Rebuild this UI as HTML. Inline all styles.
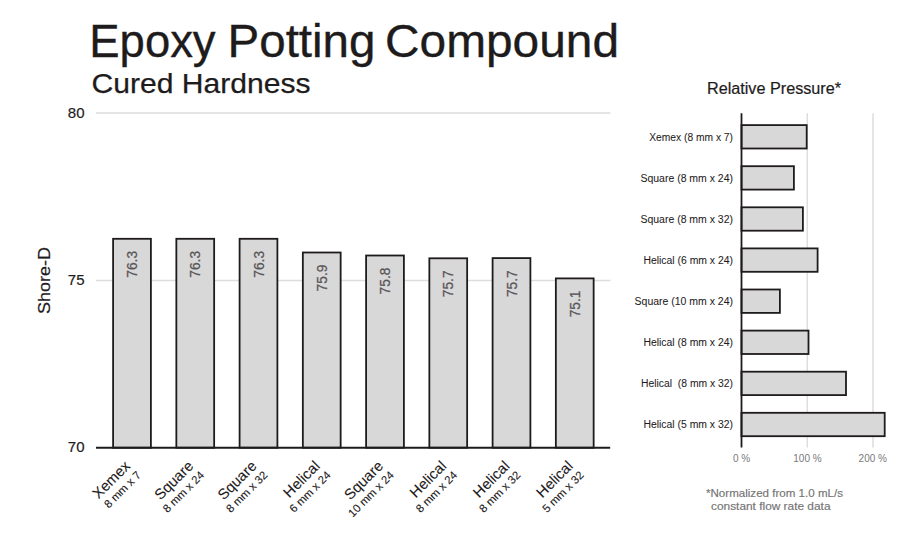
<!DOCTYPE html><html><head><meta charset="utf-8"><style>html,body{margin:0;padding:0;background:#fff;width:900px;height:550px;overflow:hidden}svg{display:block}text{font-family:"Liberation Sans",sans-serif}</style></head><body>
<svg width="900" height="550" viewBox="0 0 900 550">
<rect width="900" height="550" fill="#fff"/>
<text x="89.3" y="57.2" font-size="45.5" fill="#1e1b1c" stroke="#1e1b1c" stroke-width="0.35" textLength="126.3" lengthAdjust="spacingAndGlyphs">Epoxy</text>
<text x="227.5" y="57.2" font-size="45.5" fill="#1e1b1c" stroke="#1e1b1c" stroke-width="0.35" textLength="148" lengthAdjust="spacingAndGlyphs">Potting</text>
<text x="385" y="57.2" font-size="45.5" fill="#1e1b1c" stroke="#1e1b1c" stroke-width="0.35" textLength="234" lengthAdjust="spacingAndGlyphs">Compound</text>
<text x="91.5" y="93" font-size="28.5" fill="#1e1b1c" stroke="#1e1b1c" stroke-width="0.25" textLength="219" lengthAdjust="spacingAndGlyphs">Cured Hardness</text>
<line x1="96" y1="113.0" x2="610.5" y2="113.0" stroke="#dedddd" stroke-width="1.5"/>
<line x1="96" y1="280.4" x2="610.5" y2="280.4" stroke="#dedddd" stroke-width="1.5"/>
<text x="84.5" y="117.5" font-size="15" fill="#1e1b1c" stroke="#1e1b1c" stroke-width="0.2" text-anchor="end">80</text>
<text x="84.5" y="284.9" font-size="15" fill="#1e1b1c" stroke="#1e1b1c" stroke-width="0.2" text-anchor="end">75</text>
<text x="84.5" y="452.1" font-size="15" fill="#1e1b1c" stroke="#1e1b1c" stroke-width="0.2" text-anchor="end">70</text>
<text transform="translate(50.4,280.5) rotate(-90)" font-size="16.5" fill="#1e1b1c" stroke="#1e1b1c" stroke-width="0.2" text-anchor="middle" textLength="67" lengthAdjust="spacingAndGlyphs">Shore-D</text>
<rect x="113.10" y="238.80" width="37.80" height="208.90" fill="#d9d8d9" stroke="#1e1b1c" stroke-width="1.8"/>
<text transform="translate(137.00,250.90) rotate(-90)" font-size="13.8" fill="#575556" stroke="#575556" stroke-width="0.25" text-anchor="end">76.3</text>
<g transform="translate(131.00,467) rotate(-45)" fill="#1e1b1c" stroke="#1e1b1c" stroke-width="0.1"><text x="0" y="0" font-size="14.8" text-anchor="end">Xemex</text><text x="1.2" y="13.8" font-size="11.3" text-anchor="end">8 mm x 7</text></g>
<rect x="176.35" y="238.80" width="37.80" height="208.90" fill="#d9d8d9" stroke="#1e1b1c" stroke-width="1.8"/>
<text transform="translate(200.25,250.90) rotate(-90)" font-size="13.8" fill="#575556" stroke="#575556" stroke-width="0.25" text-anchor="end">76.3</text>
<g transform="translate(194.25,467) rotate(-45)" fill="#1e1b1c" stroke="#1e1b1c" stroke-width="0.1"><text x="0" y="0" font-size="14.8" text-anchor="end">Square</text><text x="1.2" y="13.8" font-size="11.3" text-anchor="end">8 mm x 24</text></g>
<rect x="239.60" y="238.80" width="37.80" height="208.90" fill="#d9d8d9" stroke="#1e1b1c" stroke-width="1.8"/>
<text transform="translate(263.50,250.90) rotate(-90)" font-size="13.8" fill="#575556" stroke="#575556" stroke-width="0.25" text-anchor="end">76.3</text>
<g transform="translate(257.50,467) rotate(-45)" fill="#1e1b1c" stroke="#1e1b1c" stroke-width="0.1"><text x="0" y="0" font-size="14.8" text-anchor="end">Square</text><text x="1.2" y="13.8" font-size="11.3" text-anchor="end">8 mm x 32</text></g>
<rect x="302.85" y="252.50" width="37.80" height="195.20" fill="#d9d8d9" stroke="#1e1b1c" stroke-width="1.8"/>
<text transform="translate(326.75,264.60) rotate(-90)" font-size="13.8" fill="#575556" stroke="#575556" stroke-width="0.25" text-anchor="end">75.9</text>
<g transform="translate(320.75,467) rotate(-45)" fill="#1e1b1c" stroke="#1e1b1c" stroke-width="0.1"><text x="0" y="0" font-size="14.8" text-anchor="end">Helical</text><text x="1.2" y="13.8" font-size="11.3" text-anchor="end">6 mm x 24</text></g>
<rect x="366.10" y="255.50" width="37.80" height="192.20" fill="#d9d8d9" stroke="#1e1b1c" stroke-width="1.8"/>
<text transform="translate(390.00,267.60) rotate(-90)" font-size="13.8" fill="#575556" stroke="#575556" stroke-width="0.25" text-anchor="end">75.8</text>
<g transform="translate(384.00,467) rotate(-45)" fill="#1e1b1c" stroke="#1e1b1c" stroke-width="0.1"><text x="0" y="0" font-size="14.8" text-anchor="end">Square</text><text x="1.2" y="13.8" font-size="11.3" text-anchor="end">10 mm x 24</text></g>
<rect x="429.35" y="258.30" width="37.80" height="189.40" fill="#d9d8d9" stroke="#1e1b1c" stroke-width="1.8"/>
<text transform="translate(453.25,270.40) rotate(-90)" font-size="13.8" fill="#575556" stroke="#575556" stroke-width="0.25" text-anchor="end">75.7</text>
<g transform="translate(447.25,467) rotate(-45)" fill="#1e1b1c" stroke="#1e1b1c" stroke-width="0.1"><text x="0" y="0" font-size="14.8" text-anchor="end">Helical</text><text x="1.2" y="13.8" font-size="11.3" text-anchor="end">8 mm x 24</text></g>
<rect x="492.60" y="258.10" width="37.80" height="189.60" fill="#d9d8d9" stroke="#1e1b1c" stroke-width="1.8"/>
<text transform="translate(516.50,270.20) rotate(-90)" font-size="13.8" fill="#575556" stroke="#575556" stroke-width="0.25" text-anchor="end">75.7</text>
<g transform="translate(510.50,467) rotate(-45)" fill="#1e1b1c" stroke="#1e1b1c" stroke-width="0.1"><text x="0" y="0" font-size="14.8" text-anchor="end">Helical</text><text x="1.2" y="13.8" font-size="11.3" text-anchor="end">8 mm x 32</text></g>
<rect x="555.85" y="278.40" width="37.80" height="169.30" fill="#d9d8d9" stroke="#1e1b1c" stroke-width="1.8"/>
<text transform="translate(579.75,290.50) rotate(-90)" font-size="13.8" fill="#575556" stroke="#575556" stroke-width="0.25" text-anchor="end">75.1</text>
<g transform="translate(573.75,467) rotate(-45)" fill="#1e1b1c" stroke="#1e1b1c" stroke-width="0.1"><text x="0" y="0" font-size="14.8" text-anchor="end">Helical</text><text x="1.2" y="13.8" font-size="11.3" text-anchor="end">5 mm x 32</text></g>
<line x1="96" y1="447.7" x2="610.2" y2="447.7" stroke="#1e1b1c" stroke-width="2"/>
<text x="707" y="93.8" font-size="16" fill="#1e1b1c" stroke="#1e1b1c" stroke-width="0.2" textLength="134" lengthAdjust="spacingAndGlyphs">Relative Pressure*</text>
<line x1="807.3" y1="113.3" x2="807.3" y2="447.6" stroke="#dedddd" stroke-width="1.5"/>
<line x1="873.0" y1="113.3" x2="873.0" y2="447.6" stroke="#dedddd" stroke-width="1.5"/>
<rect x="741.5" y="125.10" width="65.20" height="23.40" fill="#d9d8d9" stroke="#1e1b1c" stroke-width="1.8"/>
<text x="733" y="140.70" font-size="10" fill="#1e1b1c" stroke="#1e1b1c" stroke-width="0.05" text-anchor="end" textLength="83.8" lengthAdjust="spacingAndGlyphs">Xemex (8 mm x 7)</text>
<rect x="741.5" y="166.20" width="52.40" height="23.40" fill="#d9d8d9" stroke="#1e1b1c" stroke-width="1.8"/>
<text x="733" y="181.80" font-size="10" fill="#1e1b1c" stroke="#1e1b1c" stroke-width="0.05" text-anchor="end" textLength="92.5" lengthAdjust="spacingAndGlyphs">Square (8 mm x 24)</text>
<rect x="741.5" y="207.30" width="61.40" height="23.40" fill="#d9d8d9" stroke="#1e1b1c" stroke-width="1.8"/>
<text x="733" y="222.90" font-size="10" fill="#1e1b1c" stroke="#1e1b1c" stroke-width="0.05" text-anchor="end" textLength="92.5" lengthAdjust="spacingAndGlyphs">Square (8 mm x 32)</text>
<rect x="741.5" y="248.40" width="76.10" height="23.40" fill="#d9d8d9" stroke="#1e1b1c" stroke-width="1.8"/>
<text x="733" y="264.00" font-size="10" fill="#1e1b1c" stroke="#1e1b1c" stroke-width="0.05" text-anchor="end" textLength="89.6" lengthAdjust="spacingAndGlyphs">Helical (6 mm x 24)</text>
<rect x="741.5" y="289.50" width="38.40" height="23.40" fill="#d9d8d9" stroke="#1e1b1c" stroke-width="1.8"/>
<text x="733" y="305.10" font-size="10" fill="#1e1b1c" stroke="#1e1b1c" stroke-width="0.05" text-anchor="end" textLength="98.4" lengthAdjust="spacingAndGlyphs">Square (10 mm x 24)</text>
<rect x="741.5" y="330.60" width="67.00" height="23.40" fill="#d9d8d9" stroke="#1e1b1c" stroke-width="1.8"/>
<text x="733" y="346.20" font-size="10" fill="#1e1b1c" stroke="#1e1b1c" stroke-width="0.05" text-anchor="end" textLength="89.6" lengthAdjust="spacingAndGlyphs">Helical (8 mm x 24)</text>
<rect x="741.5" y="371.70" width="104.50" height="23.40" fill="#d9d8d9" stroke="#1e1b1c" stroke-width="1.8"/>
<text x="733" y="387.30" font-size="10" fill="#1e1b1c" stroke="#1e1b1c" stroke-width="0.05" text-anchor="end" textLength="92" lengthAdjust="spacingAndGlyphs">Helical&#160; (8 mm x 32)</text>
<rect x="741.5" y="412.80" width="143.20" height="23.40" fill="#d9d8d9" stroke="#1e1b1c" stroke-width="1.8"/>
<text x="733" y="428.40" font-size="10" fill="#1e1b1c" stroke="#1e1b1c" stroke-width="0.05" text-anchor="end" textLength="89.6" lengthAdjust="spacingAndGlyphs">Helical (5 mm x 32)</text>
<line x1="741.5" y1="113.3" x2="741.5" y2="447.6" stroke="#1e1b1c" stroke-width="1.8"/>
<text x="741.5" y="462" font-size="10" fill="#7a797a" text-anchor="middle">0 %</text>
<text x="807.5" y="462" font-size="10" fill="#7a797a" text-anchor="middle">100 %</text>
<text x="872.8" y="462" font-size="10" fill="#7a797a" text-anchor="middle">200 %</text>
<text x="706" y="496.5" font-size="11" fill="#747374" stroke="#747374" stroke-width="0.15" textLength="137" lengthAdjust="spacingAndGlyphs">*Normalized from 1.0 mL/s</text>
<text x="711" y="509.9" font-size="11" fill="#747374" stroke="#747374" stroke-width="0.15" textLength="119.5" lengthAdjust="spacingAndGlyphs">constant flow rate data</text>
</svg></body></html>
